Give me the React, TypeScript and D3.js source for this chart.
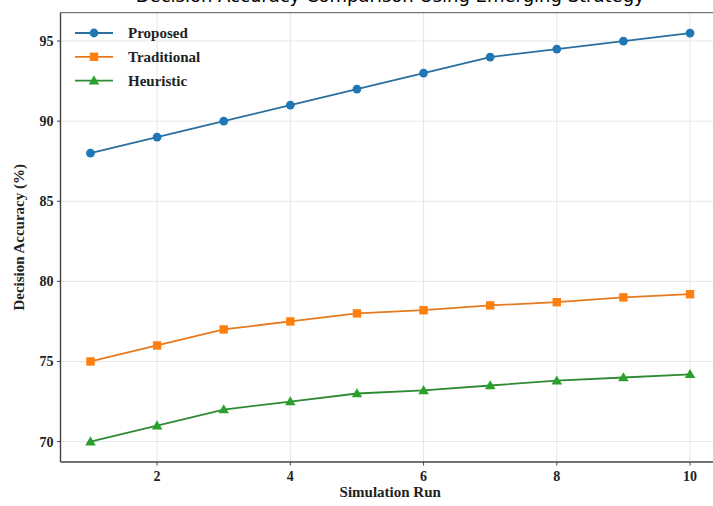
import React from "react";
import * as d3 from "d3";

const runs = [1, 2, 3, 4, 5, 6, 7, 8, 9, 10];
const proposed = [88, 89, 90, 91, 92, 93, 94, 94.5, 95, 95.5];
const traditional = [75, 76, 77, 77.5, 78, 78.2, 78.5, 78.7, 79, 79.2];
const heuristic = [70, 71, 72, 72.5, 73, 73.2, 73.5, 73.8, 74, 74.2];
const seriesNames = ["Proposed", "Traditional", "Heuristic"];
const xTicks = [2, 4, 6, 8, 10];
const yTicks = [70, 75, 80, 85, 90, 95];
const titleText = "Decision Accuracy Comparison Using Emerging Strategy";
const xLabel = "Simulation Run";
const yLabel = "Decision Accuracy (%)";

const W = 713;
const H = 506;
const left = 60.5;
const right = 720;
const top = 12.6;
const bottom = 462;

const colors = ["#1f77b4", "#ff7f0e", "#2ca02c"];
const lineColors = ["#2a6f9e", "#e57a1e", "#2f8a34"];
const serif = "'Liberation Serif', 'Times New Roman', serif";

function Marker({ kind, x, y, color }: { kind: number; x: number; y: number; color: string }) {
  if (kind === 0) return <circle cx={x} cy={y} r={4.4} fill={color} />;
  if (kind === 1) return <rect x={x - 4.2} y={y - 4.2} width={8.4} height={8.4} fill={color} />;
  const p = d3.symbol(d3.symbolTriangle, 48)();
  return <path d={p || ""} transform={`translate(${x},${y + 0.8})`} fill={color} />;
}

export default function App() {
  const xs = d3.scaleLinear().domain([0.55, 10.45]).range([left, right]);
  const ys = d3.scaleLinear().domain([68.725, 96.775]).range([bottom, top]);
  const data = [proposed, traditional, heuristic];
  const line = d3
    .line<number>()
    .x((_, i) => xs(runs[i]))
    .y((d) => ys(d));

  return (
    <svg
      width={W}
      height={H}
      style={{ position: "absolute", left: 0, top: 0, background: "#fff" }}
      xmlns="http://www.w3.org/2000/svg"
    >
      <rect x={0} y={0} width={W} height={H} fill="#fff" />
      <text
        x={(left + right) / 2}
        y={2}
        textAnchor="middle"
        fontFamily="'DejaVu Sans', sans-serif"
        fontSize={18}
        fill="#000"
      >
        {titleText}
      </text>
      {/* grid */}
      {xTicks.map((t) => (
        <line key={"gx" + t} x1={xs(t)} x2={xs(t)} y1={top} y2={bottom} stroke="#e6e6e6" strokeWidth={1} />
      ))}
      {yTicks.map((t) => (
        <line key={"gy" + t} x1={left} x2={right} y1={ys(t)} y2={ys(t)} stroke="#e6e6e6" strokeWidth={1} />
      ))}
      {/* series */}
      {data.map((vals, si) => (
        <g key={si}>
          <path d={line(vals) || ""} fill="none" stroke={lineColors[si]} strokeWidth={1.8} />
          {vals.map((v, i) => (
            <Marker key={i} kind={si} x={xs(runs[i])} y={ys(v)} color={colors[si]} />
          ))}
        </g>
      ))}
      {/* spines */}
      <line x1={left} x2={left} y1={top} y2={bottom} stroke="#444" strokeWidth={1.4} />
      <line x1={left} x2={right} y1={bottom} y2={bottom} stroke="#444" strokeWidth={1.4} />
      <line x1={left} x2={right} y1={top} y2={top} stroke="#777" strokeWidth={1.4} />
      {/* ticks */}
      {xTicks.map((t) => (
        <g key={"tx" + t}>
          <line x1={xs(t)} x2={xs(t)} y1={bottom} y2={bottom + 3.5} stroke="#444" strokeWidth={1} />
          <text
            x={xs(t)}
            y={bottom + 19}
            textAnchor="middle"
            fontFamily={serif}
            fontWeight="bold"
            fontSize={14}
            fill="#222"
          >
            {t}
          </text>
        </g>
      ))}
      {yTicks.map((t) => (
        <g key={"ty" + t}>
          <line x1={left - 3.5} x2={left} y1={ys(t)} y2={ys(t)} stroke="#444" strokeWidth={1} />
          <text
            x={left - 7}
            y={ys(t) + 5}
            textAnchor="end"
            fontFamily={serif}
            fontWeight="bold"
            fontSize={14}
            fill="#222"
          >
            {t}
          </text>
        </g>
      ))}
      <text
        x={(left + 690 + 50) / 2 - 10}
        y={497}
        textAnchor="middle"
        fontFamily={serif}
        fontWeight="bold"
        fontSize={15}
        fill="#222"
      >
        {xLabel}
      </text>
      <text
        transform={`translate(24,${(top + bottom) / 2}) rotate(-90)`}
        textAnchor="middle"
        fontFamily={serif}
        fontWeight="bold"
        fontSize={15}
        fill="#222"
      >
        {yLabel}
      </text>
      {/* legend */}
      {seriesNames.map((name, i) => {
        const yy = 33 + i * 23.8;
        return (
          <g key={name}>
            <line x1={75} x2={113} y1={yy} y2={yy} stroke={lineColors[i]} strokeWidth={1.8} />
            <Marker kind={i} x={94} y={yy} color={colors[i]} />
            <text
              x={128}
              y={yy + 5}
              fontFamily={serif}
              fontWeight="bold"
              fontSize={15}
              fill="#222"
            >
              {name}
            </text>
          </g>
        );
      })}
    </svg>
  );
}
